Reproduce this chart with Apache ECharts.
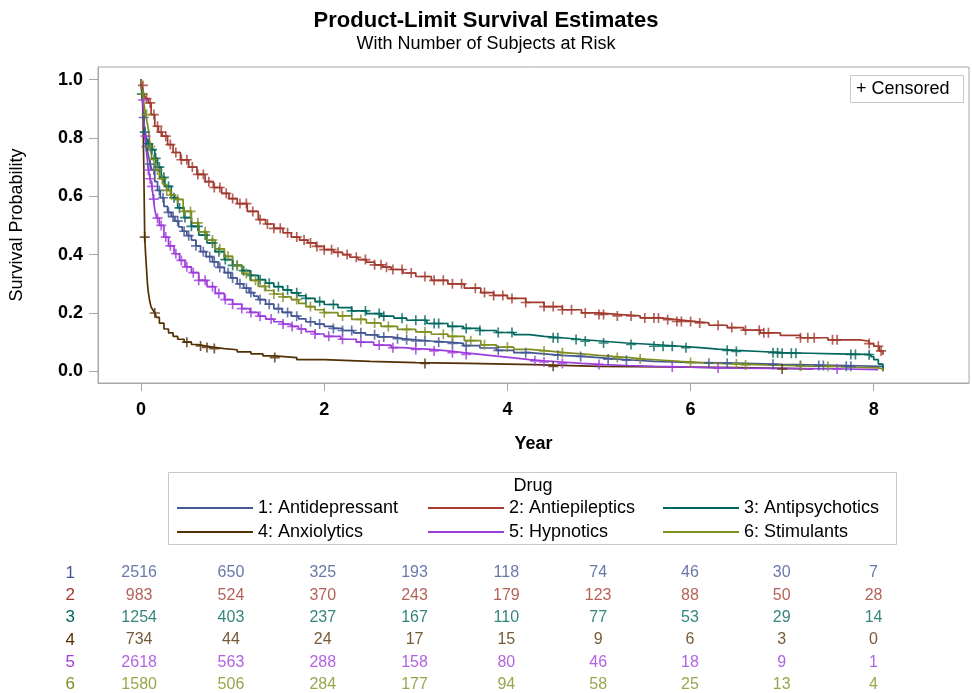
<!DOCTYPE html>
<html><head><meta charset="utf-8">
<script src="https://cdn.jsdelivr.net/npm/echarts@6/dist/echarts.min.js"></script>
<style>html,body{margin:0;padding:0;background:#fff}#c{width:972px;height:693px}</style>
</head><body><div id="c"></div>
<script>
// ---------- data ----------
const groupNames = ['1: Antidepressant','2: Antiepileptics','3: Antipsychotics','4: Anxiolytics','5: Hypnotics','6: Stimulants'];
const xTicks = [0,2,4,6,8];
const yTicks = [0,0.2,0.4,0.6,0.8,1.0];
const riskTimes = [0,1,2,3,4,5,6,7,8];
const rowLabels = [1,2,3,4,5,6];

// survival step curves (time, survival)
const T1 = [0,0.01,0.02,0.03,0.04,0.06,0.08,0.1,0.12,0.15,0.18,0.21,0.25,0.29,0.33,0.37,0.41,0.45,0.5,0.55,0.6,0.65,0.71,0.78,0.84,0.91,0.98,1.05,1.12,1.18,1.23,1.28,1.36,1.45,1.54,1.64,1.72,1.8,1.9,2.0,2.1,2.2,2.32,2.45,2.58,2.73,2.86,3.0,3.17,3.35,3.52,3.7,3.88,4.07,4.24,4.4,4.6,4.81,5.0,5.2,5.4,5.6,6.0,6.5,7.0,7.7,8.05,8.1];
const S1 = [1.0,0.96,0.93,0.87,0.82,0.77,0.74,0.71,0.69,0.65,0.62,0.595,0.565,0.545,0.53,0.515,0.495,0.48,0.465,0.45,0.43,0.41,0.393,0.375,0.356,0.338,0.32,0.30,0.285,0.27,0.258,0.246,0.23,0.215,0.202,0.189,0.18,0.17,0.162,0.154,0.147,0.14,0.132,0.125,0.118,0.112,0.108,0.104,0.1,0.096,0.088,0.08,0.072,0.064,0.06,0.055,0.051,0.047,0.042,0.038,0.034,0.031,0.028,0.024,0.02,0.017,0.017,0.0];
const T2 = [0,0.01,0.03,0.05,0.08,0.11,0.15,0.19,0.23,0.29,0.35,0.43,0.52,0.61,0.7,0.79,0.88,0.96,1.05,1.16,1.28,1.36,1.45,1.55,1.64,1.73,1.82,1.91,2.0,2.1,2.2,2.28,2.37,2.46,2.55,2.64,2.73,2.86,3.0,3.17,3.35,3.53,3.71,3.85,4.0,4.2,4.4,4.6,4.81,5.0,5.2,5.45,5.67,5.85,6.03,6.2,6.4,6.58,6.76,6.98,7.2,7.5,7.85,7.95,8.0,8.06,8.1];
const S2 = [1.0,0.98,0.95,0.935,0.92,0.88,0.84,0.82,0.806,0.777,0.75,0.725,0.70,0.675,0.65,0.63,0.61,0.592,0.575,0.548,0.52,0.505,0.49,0.475,0.46,0.45,0.44,0.428,0.417,0.408,0.40,0.391,0.383,0.374,0.365,0.357,0.349,0.337,0.325,0.312,0.30,0.285,0.27,0.26,0.25,0.236,0.222,0.211,0.20,0.195,0.19,0.183,0.177,0.171,0.166,0.158,0.15,0.141,0.132,0.123,0.115,0.108,0.103,0.095,0.086,0.07,0.057];
const T3 = [0,0.01,0.02,0.04,0.06,0.08,0.12,0.15,0.18,0.22,0.26,0.33,0.4,0.47,0.55,0.63,0.72,0.81,0.91,1.0,1.1,1.19,1.28,1.36,1.45,1.55,1.64,1.72,1.8,1.9,2.0,2.15,2.3,2.46,2.62,2.76,2.9,3.12,3.35,3.52,3.7,3.88,4.07,4.24,4.4,4.6,4.81,5.05,5.3,5.6,5.89,6.1,6.3,6.5,6.76,7.0,7.3,7.6,7.92,7.97,8.0,8.05,8.1];
const S3 = [1.0,0.95,0.90,0.82,0.80,0.78,0.76,0.73,0.70,0.665,0.634,0.595,0.56,0.527,0.497,0.467,0.44,0.41,0.383,0.363,0.345,0.329,0.314,0.302,0.29,0.279,0.269,0.259,0.25,0.239,0.229,0.218,0.207,0.198,0.189,0.182,0.175,0.164,0.154,0.147,0.14,0.133,0.126,0.12,0.115,0.109,0.103,0.097,0.092,0.086,0.081,0.076,0.072,0.068,0.064,0.062,0.06,0.058,0.057,0.05,0.04,0.025,0.006];
const T4 = [0,0.005,0.02,0.025,0.03,0.035,0.04,0.05,0.06,0.07,0.08,0.095,0.11,0.13,0.15,0.17,0.2,0.25,0.3,0.35,0.4,0.47,0.55,0.62,0.7,0.8,0.91,1.05,1.2,1.33,1.46,1.7,2.0,2.5,3.0,3.57,4.29,5.0,5.75,6.5,7.0,7.34];
const S4 = [1.0,0.97,0.92,0.80,0.70,0.58,0.46,0.40,0.35,0.30,0.27,0.24,0.22,0.21,0.20,0.185,0.165,0.145,0.132,0.12,0.11,0.10,0.092,0.087,0.082,0.078,0.074,0.067,0.06,0.053,0.047,0.04,0.034,0.03,0.027,0.023,0.017,0.015,0.013,0.01,0.008,0.006];
const T5 = [0,0.01,0.02,0.03,0.04,0.06,0.08,0.1,0.12,0.135,0.15,0.17,0.2,0.25,0.3,0.36,0.42,0.48,0.55,0.63,0.72,0.81,0.91,1.0,1.1,1.19,1.28,1.36,1.45,1.55,1.64,1.72,1.8,1.9,2.0,2.18,2.35,2.54,2.73,2.86,3.0,3.17,3.35,3.52,3.7,3.88,4.07,4.24,4.4,4.6,4.81,5.05,5.3,5.6,5.89,6.2,6.5,7.0,7.7,8.05];
const S5 = [1.0,0.97,0.93,0.87,0.806,0.75,0.69,0.66,0.634,0.59,0.554,0.525,0.50,0.46,0.43,0.403,0.38,0.358,0.338,0.312,0.29,0.267,0.246,0.23,0.215,0.202,0.189,0.179,0.17,0.162,0.154,0.145,0.136,0.128,0.12,0.11,0.10,0.09,0.081,0.078,0.075,0.07,0.064,0.058,0.052,0.046,0.04,0.036,0.032,0.027,0.023,0.02,0.017,0.015,0.013,0.011,0.01,0.008,0.006,0.006];
const T6 = [0,0.01,0.02,0.035,0.05,0.065,0.08,0.1,0.12,0.16,0.2,0.24,0.28,0.32,0.37,0.46,0.55,0.63,0.72,0.81,0.91,1.0,1.1,1.19,1.28,1.36,1.45,1.55,1.64,1.72,1.8,1.9,2.0,2.15,2.3,2.46,2.62,2.8,3.0,3.17,3.35,3.53,3.71,3.88,4.07,4.25,4.44,4.62,4.81,5.0,5.16,5.33,5.5,5.7,5.89,6.1,6.3,6.55,6.8,7.05,7.3,7.55,7.8,8.05,8.1];
const S6 = [1.0,0.98,0.95,0.91,0.88,0.855,0.83,0.77,0.726,0.69,0.66,0.64,0.62,0.605,0.589,0.548,0.509,0.478,0.45,0.42,0.394,0.363,0.335,0.312,0.291,0.277,0.265,0.255,0.246,0.233,0.222,0.211,0.201,0.19,0.178,0.166,0.154,0.144,0.135,0.127,0.12,0.105,0.091,0.083,0.075,0.07,0.064,0.06,0.055,0.051,0.047,0.042,0.038,0.034,0.03,0.027,0.025,0.022,0.02,0.018,0.017,0.014,0.012,0.008,0.0];

// censoring times
const C1 = [0.03,0.06,0.1,0.14,0.2,0.24,0.3,0.35,0.4,0.47,0.52,0.6,0.68,0.75,0.8,0.86,0.95,1.0,1.08,1.15,1.2,1.3,1.4,1.5,1.6,1.7,1.85,1.95,2.1,2.2,2.3,2.4,2.55,2.65,2.8,2.9,3.0,3.1,3.25,3.4,3.55,3.9,4.2,4.55,4.8,5.1,5.3,6.2,6.4,6.9,7.2,7.4,7.45,7.7,7.75];
const C2 = [0.02,0.06,0.1,0.14,0.18,0.22,0.27,0.32,0.38,0.44,0.5,0.56,0.62,0.68,0.74,0.8,0.86,0.93,1.0,1.08,1.15,1.22,1.3,1.38,1.45,1.52,1.6,1.7,1.78,1.85,1.92,2.0,2.08,2.15,2.25,2.35,2.45,2.55,2.62,2.68,2.75,2.85,2.95,3.1,3.2,3.3,3.4,3.5,3.65,3.75,3.85,3.95,4.05,4.2,4.4,4.5,4.6,4.7,4.85,5.0,5.05,5.2,5.35,5.5,5.6,5.65,5.75,5.85,5.9,6.0,6.1,6.3,6.45,6.6,6.75,6.8,6.85,7.2,7.28,7.35,7.55,7.6,7.95,8.05,8.08];
const C3 = [0.01,0.04,0.08,0.12,0.16,0.2,0.25,0.3,0.36,0.42,0.48,0.55,0.62,0.7,0.78,0.85,0.92,1.0,1.05,1.12,1.2,1.3,1.4,1.5,1.6,1.7,1.8,1.95,2.1,2.3,2.45,2.6,2.65,2.85,3.0,3.1,3.2,3.25,3.4,3.55,3.7,3.9,4.05,4.5,4.55,4.75,4.85,5.05,5.35,5.6,5.7,5.8,5.95,6.4,6.5,6.9,6.95,7.0,7.1,7.15,7.75,7.8,7.95];
const C4 = [0.04,0.15,0.5,0.65,0.72,0.8,1.46,3.1,4.5,7.0];
const C5 = [0.02,0.05,0.08,0.1,0.12,0.14,0.18,0.22,0.27,0.32,0.38,0.44,0.5,0.57,0.63,0.7,0.78,0.85,0.92,1.0,1.1,1.2,1.3,1.42,1.55,1.65,1.75,1.9,2.05,2.2,2.4,2.6,2.75,3.0,3.2,3.4,3.55,4.3,4.4,4.6,5.0,5.8,6.3,7.6];
const C6 = [0.02,0.06,0.1,0.14,0.18,0.23,0.28,0.33,0.4,0.47,0.54,0.62,0.7,0.78,0.86,0.95,1.05,1.15,1.25,1.35,1.45,1.55,1.7,1.85,2.0,2.2,2.4,2.55,2.7,2.9,3.1,3.3,3.4,3.6,3.75,4.0,4.4,4.6,5.2,5.45,6.0,6.5,6.6,7.2,7.5];

// number at risk
const R1 = [2516,650,325,193,118,74,46,30,7];
const R2 = [983,524,370,243,179,123,88,50,28];
const R3 = [1254,403,237,167,110,77,53,29,14];
const R4 = [734,44,24,17,15,9,6,3,0];
const R5 = [2618,563,288,158,80,46,18,9,1];
const R6 = [1580,506,284,177,94,58,25,13,4];

// ---------- styles ----------
const colors = ['#445694','#A23A2E','#01665E','#543005','#9D3CDB','#7F8E1F'];
const FONT = "'Liberation Sans', Arial, sans-serif";
const GRAY = '#a8a8a8';

const TS = [T1,T2,T3,T4,T5,T6], SS = [S1,S2,S3,S4,S5,S6], CS = [C1,C2,C3,C4,C5,C6], RS = [R1,R2,R3,R4,R5,R6];
function survAt(T, S, t) { let v = S[0]; for (let i = 0; i < T.length; i++) if (T[i] <= t) v = S[i]; return v; }

const plus = 'path://M-1,-6 L1,-6 L1,-1 L6,-1 L6,1 L1,1 L1,6 L-1,6 L-1,1 L-6,1 L-6,-1 L-1,-1 Z';

const series = [];
groupNames.forEach((name, g) => {
  series.push({
    name: name, type: 'line', step: 'end', xAxisIndex: 0, yAxisIndex: 0,
    data: TS[g].map((t, i) => [t, SS[g][i]]),
    showSymbol: false, symbol: 'none', silent: true,
    lineStyle: { color: colors[g], width: 1.7 }, itemStyle: { color: colors[g] }, z: 2
  });
});
groupNames.forEach((name, g) => {
  series.push({
    name: 'cens' + g, type: 'scatter', xAxisIndex: 0, yAxisIndex: 0,
    data: CS[g].map(t => [t, survAt(TS[g], SS[g], t)]),
    symbol: plus, symbolSize: 10, silent: true,
    itemStyle: { color: colors[g] }, z: 3
  });
});
groupNames.forEach((name, g) => {
  series.push({
    name: 'risk' + g, type: 'scatter', xAxisIndex: 1, yAxisIndex: 1,
    data: riskTimes.map((t, i) => [t, rowLabels[g], RS[g][i]]),
    symbolSize: 0.01, silent: true,
    label: { show: true, position: 'inside', formatter: p => String(p.value[2]),
      color: colors[g], fontSize: 16, fontFamily: FONT }
  });
});

const legendPos = [[177,498],[428,498],[663,498],[177,522],[428,522],[663,522]];
const legends = groupNames.map((name, g) => ({
  data: [name], left: legendPos[g][0], top: legendPos[g][1], orient: 'horizontal',
  icon: 'rect', itemWidth: 76, itemHeight: 2, selectedMode: false, padding: 0,
  textStyle: { fontSize: 18, color: '#000', fontFamily: FONT, lineHeight: 20 }
}));

const rich = {};
rowLabels.forEach((r, i) => { rich['g' + r] = { color: colors[i], fontSize: 17, fontFamily: FONT }; });

const option = {
  animation: false,
  backgroundColor: '#fff',
  textStyle: { fontFamily: FONT },
  title: {
    text: 'Product-Limit Survival Estimates', subtext: 'With Number of Subjects at Risk',
    left: 'center', top: 10, itemGap: 3, padding: 0,
    textStyle: { fontSize: 22, fontWeight: 'bold', color: '#000', fontFamily: FONT },
    subtextStyle: { fontSize: 18, color: '#000', fontFamily: FONT }
  },
  legend: legends,
  grid: [
    { left: 96, top: 67, width: 873, height: 316, show: true, borderColor: GRAY, borderWidth: 1, backgroundColor: '#fff' },
    { left: 96, top: 573, width: 873, height: 112, show: false }
  ],
  xAxis: [
    { type: 'value', gridIndex: 0, min: -0.47, max: 9.04,
      name: 'Year', nameLocation: 'middle', nameGap: 52,
      nameTextStyle: { fontSize: 18, fontWeight: 'bold', color: '#000', fontFamily: FONT },
      axisLine: { show: true, onZero: false, lineStyle: { color: GRAY } },
      axisTick: { show: true, length: 8, lineStyle: { color: GRAY }, customValues: xTicks },
      axisLabel: { customValues: xTicks, margin: 18, fontSize: 18, fontWeight: 'bold', color: '#000', fontFamily: FONT },
      splitLine: { show: false } },
    { type: 'value', gridIndex: 1, min: -0.47, max: 9.04, show: false }
  ],
  yAxis: [
    { type: 'value', gridIndex: 0, min: -0.04, max: 1.043,
      name: 'Survival Probability', nameLocation: 'middle', nameGap: 72, nameRotate: 90,
      nameTextStyle: { fontSize: 18, color: '#000', fontFamily: FONT },
      axisLine: { show: true, onZero: false, lineStyle: { color: GRAY } },
      axisTick: { show: true, length: 9, lineStyle: { color: GRAY }, customValues: yTicks },
      axisLabel: { customValues: yTicks, margin: 15, fontSize: 18, fontWeight: 'bold', color: '#000', fontFamily: FONT,
        formatter: v => Number(v).toFixed(1) },
      splitLine: { show: false } },
    { type: 'value', gridIndex: 1, min: 1, max: 6, inverse: true,
      axisLine: { show: false }, axisTick: { show: false }, splitLine: { show: false },
      axisLabel: { customValues: rowLabels, margin: 21, formatter: v => '{g' + v + '|' + v + '}', rich: rich } }
  ],
  graphic: [
    { type: 'rect', shape: { x: 168.5, y: 472.5, width: 728, height: 72 }, style: { fill: 'none', stroke: '#c8c8c8', lineWidth: 1 }, z: 1 },
    { type: 'text', x: 533, y: 486, style: { text: 'Drug', fontSize: 18, fontFamily: FONT, fill: '#000', align: 'center', verticalAlign: 'middle' } },
    { type: 'rect', shape: { x: 850.5, y: 75.5, width: 113, height: 27 }, style: { fill: '#fff', stroke: '#c8c8c8', lineWidth: 1 }, z: 10 },
    { type: 'text', x: 856, y: 89, z: 11, style: { text: '+ Censored', fontSize: 18, fontFamily: FONT, fill: '#000', align: 'left', verticalAlign: 'middle' } }
  ],
  series: series
};

const chart = echarts.init(document.getElementById('c'), null, { renderer: 'canvas' });
chart.setOption(option);
</script>
</body></html>
